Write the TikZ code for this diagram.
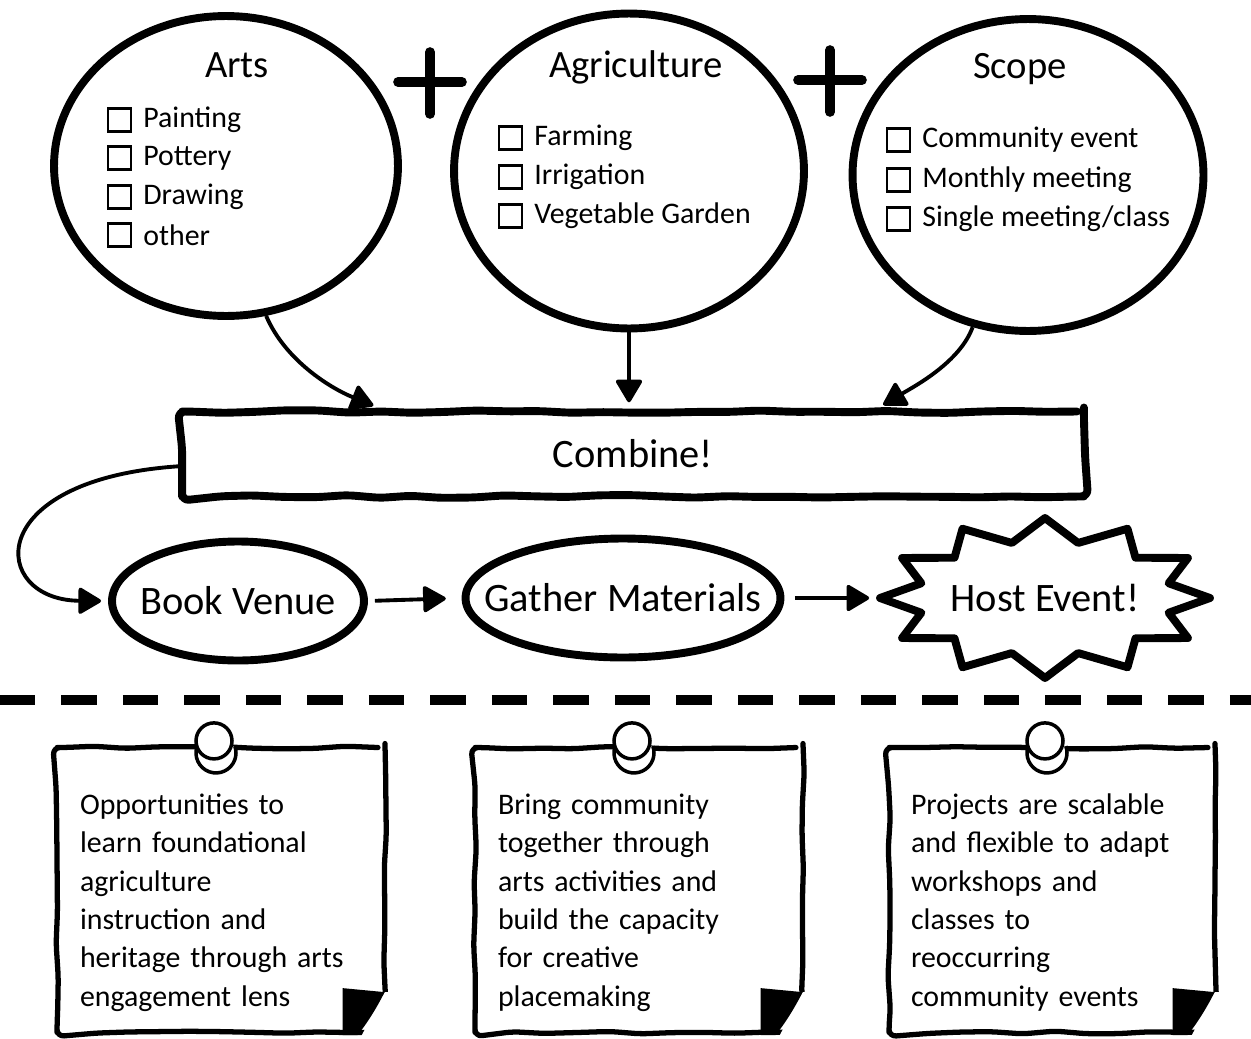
\documentclass[tikz,border=0pt]{standalone}
\usepackage{fontspec}
\setmainfont{Carlito}
\usetikzlibrary{shapes.geometric, arrows.meta, decorations.pathmorphing, calc}

\tikzset{
  bubble/.style={draw, ellipse, line width=4.5pt, inner sep=0pt},
  heading/.style={font=\fontsize{22}{26}\selectfont},
  checkbox/.style={draw, line width=1.2pt, minimum size=0.46cm, inner sep=0pt, xshift=-0.22cm},
  checkitem/.style={anchor=west, inner sep=0pt, font=\fontsize{17}{20}\selectfont,
    label={[checkbox]left:{}}},
  stage/.style={draw, ellipse, line width=4.5pt, inner sep=0pt,
    label={[font=\fontsize{23}{27}\selectfont]center:#1}},
  flow/.style={line width=2.2pt, -{Triangle[length=14pt, width=16pt, round]}},
  plus/.style={line width=5.5pt, line cap=round},
  wobbly/.style={decorate, decoration={random steps, segment length=18pt, amplitude=0.8pt},
    rounded corners=4pt, line cap=round, line join=round},
  note/.style={draw, wobbly, line width=3pt, fill=white, minimum width=6.56cm, minimum height=5.7cm,
    text width=5.64cm, align=left, font=\fontsize{17}{21.8}\selectfont,
    execute at begin node={\rule{0pt}{26pt}}},
  pin/.style={line width=2pt, fill=white},
  separator/.style={line width=6pt, dash pattern=on 20pt off 15pt},
  burst/.style={line width=4.5pt, line join=round}
}

% curled corner at the bottom right of a note
\newcommand{\pagefold}[1]{%
  \fill[white] ([shift={(-3,-43)}]#1.south east) -- ([shift={(8,-43)}]#1.south east)
    -- ([shift={(8,8)}]#1.south east) -- ([shift={(-30,8)}]#1.south east) -- cycle;
  \fill ([shift={(-45,-47)}]#1.south east) -- ([shift={(-3,-43)}]#1.south east)
    .. controls ([shift={(-12,-25)}]#1.south east) and ([shift={(-22,-10)}]#1.south east)
    .. ([shift={(-30,0)}]#1.south east) -- ([shift={(-45,0)}]#1.south east) -- cycle;
}
% push pin on top of a note
\newcommand{\notepin}[1]{%
  \draw[pin] ([shift={(-23.8,1.2)}]#1.north) arc[start angle=200, end angle=-20, radius=20];
  \draw[pin] ([shift={(-7,-4)}]#1.north) circle[radius=18];
}

\pgfmathsetseed{7}

\begin{document}
\begin{tikzpicture}[x=0.02cm, y=-0.02cm]
            \useasboundingbox (0,0) rectangle (1251,1038);

            % Nodes with manual coordinates
            \node[bubble, minimum width=6.88cm, minimum height=6.0cm] (arts) at (226,166) {};
            \node[bubble, minimum width=7.0cm, minimum height=6.3cm] (agri) at (629,171) {};
            \node[bubble, minimum width=7.02cm, minimum height=6.24cm] (scope) at (1028,175) {};

            \node[heading] (artstitle) at (237,65) {Arts};
            \node[heading] (agrititle) at (636,67) {Agriculture};
            \node[heading] (scopetitle) at (1020,69) {Scope};

            \node[checkitem] (painting) at (143,120) {Painting};
            \node[checkitem] (pottery) at (143,158) {Pottery};
            \node[checkitem] (drawing) at (143,197) {Drawing};
            \node[checkitem] (other) at (143,235) {other};

            \node[checkitem] (farming) at (534,138) {Farming};
            \node[checkitem] (irrigation) at (534,177) {Irrigation};
            \node[checkitem] (garden) at (534,216) {Vegetable Garden};

            \node[checkitem] (event) at (922,140) {Community event};
            \node[checkitem] (monthly) at (922,180) {Monthly meeting};
            \node[checkitem] (single) at (922,219) {Single meeting/class};

            \draw[plus] (398,82) -- (462,82) (430,52) -- (430,114);
            \draw[plus] (798,80) -- (862,80) (830,50) -- (830,112);

            \node[draw, wobbly, line width=4.5pt, minimum width=18.04cm, minimum height=1.7cm,
              font=\fontsize{23}{27}\selectfont] (combine) at (633,454) {Combine!};

            \node[stage=Book Venue, minimum width=5.04cm, minimum height=2.38cm] (venue) at (238,601) {};
            \node[stage=Gather Materials, minimum width=6.3cm, minimum height=2.38cm] (materials) at (623,598) {};
            \node[ellipse, minimum width=6.6cm, minimum height=3.2cm, inner sep=0pt,
              font=\fontsize{23}{27}\selectfont] (host) at (1045,598) {Host Event!};
            \begin{scope}[shift={(host.center)}]
              \draw[burst] (0:165 and 80) \foreach \a in {0,30,...,330} { -- (\a:165 and 80) -- ({\a+15}:128 and 57) } -- cycle;
            \end{scope}

            \draw[separator] (0,700) -- (1251,700);

            \node[note] (note1) at (221,890) {Opportunities to\\learn foundational\\agriculture\\instruction and\\heritage through arts\\engagement lens};
            \node[note] (note2) at (639,890) {Bring community\\together through\\arts activities and\\build the capacity\\for creative\\placemaking};
            \node[note, minimum width=6.52cm] (note3) at (1052,890) {Projects are scalable\\and flexible to adapt\\workshops and\\classes to\\reoccurring\\community events};
            \pagefold{note1}
            \pagefold{note2}
            \pagefold{note3}
            \notepin{note1}
            \notepin{note2}
            \notepin{note3}

            % Edges
            \draw[flow, shorten >=3pt] (arts.285) .. controls (285,360) and (330,388) .. ($(combine.north west)!.22!(combine.north east)$);
            \draw[flow, shorten >=3pt] (agri.south) -- (agri.south |- combine.north);
            \draw[flow, shorten >=3pt] (scope.250) .. controls (960,362) and (915,386) .. ($(combine.north west)!.77!(combine.north east)$);
            \draw[flow, shorten >=4pt] ([yshift=-7pt]combine.west) .. controls (-20,480) and (-10,600) .. (venue.west);
            \draw[flow, shorten <=4pt, shorten >=9pt] (venue.east) -- (materials.west);
            \draw[flow, shorten <=6pt, shorten >=6pt] (materials.east) -- (host.west);
        \end{tikzpicture}
\end{document}
